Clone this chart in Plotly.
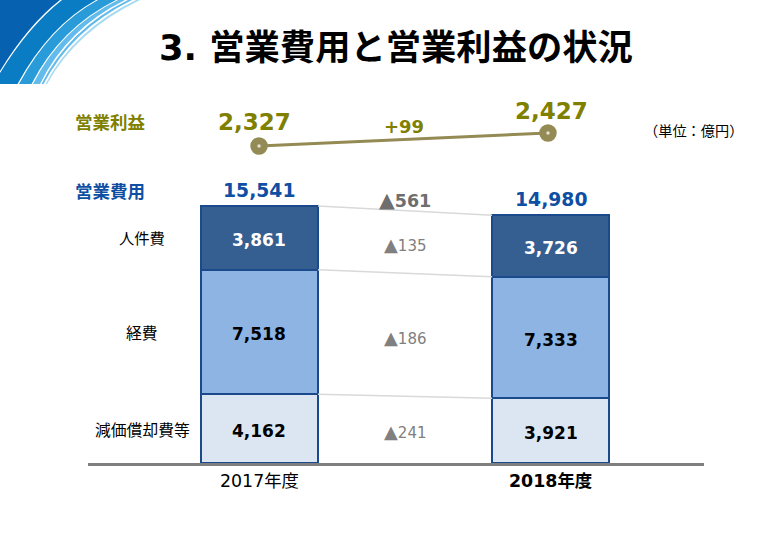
import plotly.graph_objects as go

W, H = 770, 533

years = ["2017年度", "<b>2018年度</b>"]
depreciation = [4162, 3921]
expenses = [7518, 7333]
personnel = [3861, 3726]
totals = [15541, 14980]
profit = [2327, 2427]
profit_change = "+99"
deltas = [561, 135, 186, 241]

BAR_W = 0.402
BORDER = "#1b4a8c"
GREY = "#7f7f7f"
OLIVE = "#7f7f00"
BLUE = "#0f4fa3"
FONT = "DejaVu Sans, Noto Sans CJK JP"


def px(x):
    return x / W


def py(y):
    return 1 - y / H


def band(start, ctrl, end, color):
    # one layer of the corner artwork, filled back to the top left corner
    path = (f"M {px(start[0])} {py(start[1])} Q {px(ctrl[0])} {py(ctrl[1])} {px(end[0])} {py(end[1])} "
            f"L {px(0)} {py(0)} L {px(0)} {py(84)} Z")
    return dict(type="path", xref="paper", yref="paper", path=path,
                fillcolor=color, line=dict(width=0), layer="below")


fig = go.Figure()

series = [
    (depreciation, "#dce6f2", "black"),
    (expenses, "#8eb4e3", "black"),
    (personnel, "#365f91", "white"),
]
for values, color, text_color in series:
    fig.add_trace(go.Bar(
        x=[0, 1], y=values, width=BAR_W,
        marker=dict(color=color, line=dict(color=BORDER, width=1.5)),
        hoverinfo="skip",
    ))

# connectors between the stacks
tops_a = [depreciation[0], depreciation[0] + expenses[0], totals[0]]
tops_b = [depreciation[1], depreciation[1] + expenses[1], totals[1]]
for a, b in zip(tops_a, tops_b):
    fig.add_trace(go.Scatter(
        x=[BAR_W / 2, 1 - BAR_W / 2], y=[a, b], mode="lines",
        line=dict(color="#d9d9d9", width=1.5), hoverinfo="skip",
    ))

fig.add_trace(go.Scatter(
    x=[0, 1], y=profit, xaxis="x2", yaxis="y2", mode="lines+markers",
    line=dict(color="#948a54", width=3),
    marker=dict(size=10.5, color="#e4e2d4", line=dict(color="#948a54", width=7)),
    hoverinfo="skip",
))


def note(x, y, text, size, color, bold=False, **kw):
    fig.add_annotation(x=x, y=y, text=f"<b>{text}</b>" if bold else text,
                       showarrow=False, xanchor="center",
                       font=dict(size=size, color=color, family=FONT), **kw)


def label(x, y, text, size, color, bold=False):
    note(px(x), py(y), text, size, color, bold, xref="paper", yref="paper", yanchor="middle")


label(396, 47, "3. 営業費用と営業利益の状況", 35.3, "black", True)
label(110, 123, "営業利益", 17.5, OLIVE, True)
label(110, 192, "営業費用", 17.5, BLUE, True)
label(142, 239, "人件費", 15.3, "black")
label(142, 333, "経費", 15.8, "black")
label(142, 430, "減価償却費等", 15.8, "black")
label(693, 131, "（単位：億円）", 14.2, "black")

# values inside the stacks
for i in range(2):
    base = 0
    for values, color, text_color in series:
        note(i, base + values[i] / 2, f"{values[i]:,}", 17, text_color, True,
             xref="x", yref="y", yshift=-2)
        base += values[i]

# profit labels
note(0, profit[0], f"{profit[0]:,}", 23, OLIVE, True, xref="x2", yref="y2", yshift=24, xshift=-5)
note(1, profit[1], f"{profit[1]:,}", 23, OLIVE, True, xref="x2", yref="y2", yshift=22, xshift=4)
note(0.5, sum(profit) / 2, profit_change, 18, OLIVE, True, xref="x2", yref="y2", yshift=13)

# totals above the stacks
for i, t in enumerate(totals):
    note(i, t, f"{t:,}", 18.8, BLUE, True, xref="x", yref="y", yanchor="bottom", yshift=3)

# differences between the two years
mid_points = [
    sum(totals) / 2,
    (tops_a[1] + personnel[0] / 2 + tops_b[1] + personnel[1] / 2) / 2,
    (tops_a[0] + expenses[0] / 2 + tops_b[0] + expenses[1] / 2) / 2,
    (depreciation[0] / 2 + depreciation[1] / 2) / 2,
]
shifts = [11, -3, -3, -2]
for i, (d, m, s) in enumerate(zip(deltas, mid_points, shifts)):
    c = "#6e6e6e" if i == 0 else "#808080"
    size = 17.5 if i == 0 else 15
    tri = f'<span style="font-size:{size + 3}px">▲</span>'
    note(0.5, m, f"{tri}{d}", size, c, i == 0, xref="x", yref="y", yshift=s)

corner_shapes = [
    band((47, 84), (76, 31), (140, 0), "#a6daf2"),
    band((45.5, 84), (74, 30), (136, 0), "#ffffff"),
    band((43.5, 84), (72, 29.5), (132, 0), "#62bbea"),
    band((41.5, 84), (69, 29), (128, 0), "#ffffff"),
    band((40, 84), (67, 28.5), (125, 0), "#62bbea"),
    band((33, 84), (61, 28), (118, 0), "#ffffff"),
    band((31.5, 84), (60, 28), (116, 0), "#2a9bd9"),
    band((19, 84), (50, 26), (98, 0), "#ffffff"),
    band((17.5, 84), (49, 26), (96, 0), "#0a7cc4"),
    band((0, 73), (29, 26), (62, 0), "#ffffff"),
    band((0, 71), (28, 25), (60, 0), "#0662b0"),
]

fig.update_layout(
    width=W, height=H, margin=dict(l=0, r=0, t=0, b=0),
    paper_bgcolor="white", plot_bgcolor="rgba(0,0,0,0)",
    barmode="stack", showlegend=False, shapes=corner_shapes,
    xaxis=dict(domain=[px(88), px(704)], range=[-0.589, 1.527],
               tickvals=[0, 1], ticktext=years, ticks="", showgrid=False, zeroline=False,
               showline=True, linecolor=GREY, linewidth=3,
               tickfont=dict(size=17.4, color="black", family=FONT)),
    yaxis=dict(domain=[py(463), 1], range=[0, 463 / 0.01654], visible=False),
    xaxis2=dict(domain=[px(88), px(704)], range=[-0.592, 1.54], overlaying="x", visible=False),
    yaxis2=dict(domain=[py(463), 1], range=[-111.5, 3450], overlaying="y", visible=False),
)

fig.write_html("out.html", config=dict(displayModeBar=False),
               post_script="document.body.style.margin='0'")
